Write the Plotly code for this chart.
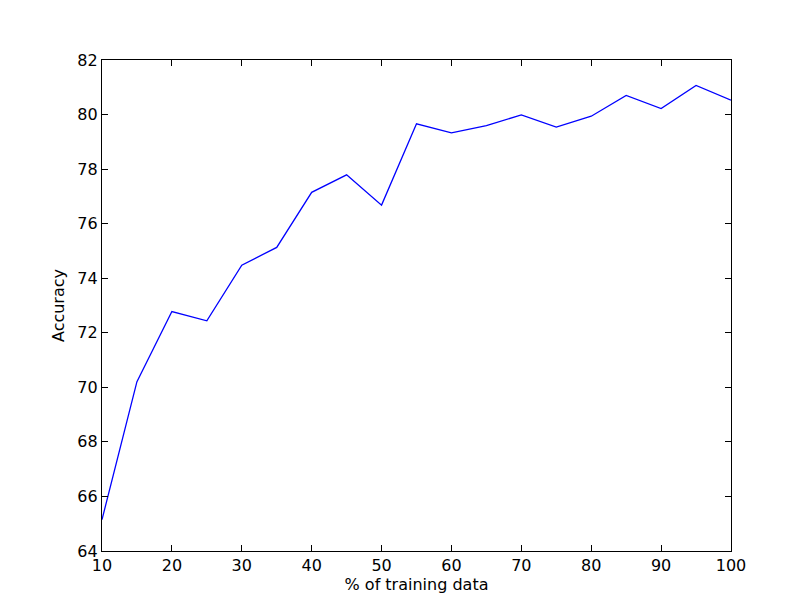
import plotly.graph_objects as go

train_pct = [10, 15, 20, 25, 30, 35, 40, 45, 50, 55, 60, 65, 70, 75, 80, 85, 90, 95, 100]
accuracy = [65.15, 70.21, 72.78, 72.44, 74.48, 75.13, 77.15, 77.79, 76.68, 79.66, 79.33,
            79.59, 79.99, 79.54, 79.94, 80.70, 80.22, 81.07, 80.53]

AXIS_FONT = dict(family="DejaVu Sans", size=16, color="black")

fig = go.Figure()
fig.add_trace(go.Scatter(
    x=train_pct,
    y=accuracy,
    mode="lines",
    line=dict(color="#0000ff", width=1.3),
    showlegend=False,
))

axis_common = dict(
    showline=True,
    linecolor="black",
    linewidth=1.2,
    mirror="ticks",
    ticks="inside",
    ticklen=6,
    tickwidth=1,
    tickcolor="black",
    showgrid=False,
    zeroline=False,
    tickfont=AXIS_FONT,
)

# page adds an 8px body margin, so the figure itself is 800x600
fig.update_layout(
    width=800,
    height=600,
    margin=dict(l=94, r=77, t=52, b=57),
    paper_bgcolor="white",
    plot_bgcolor="white",
    font=AXIS_FONT,
    xaxis=dict(
        range=[10, 100],
        tickvals=list(range(10, 101, 10)),
        title=dict(text="% of training data", font=AXIS_FONT, standoff=4),
        **axis_common,
    ),
    yaxis=dict(
        range=[64, 82],
        tickvals=list(range(64, 83, 2)),
        title=dict(text="Accuracy", font=AXIS_FONT, standoff=8),
        **axis_common,
    ),
)

fig.write_html("out.html")
